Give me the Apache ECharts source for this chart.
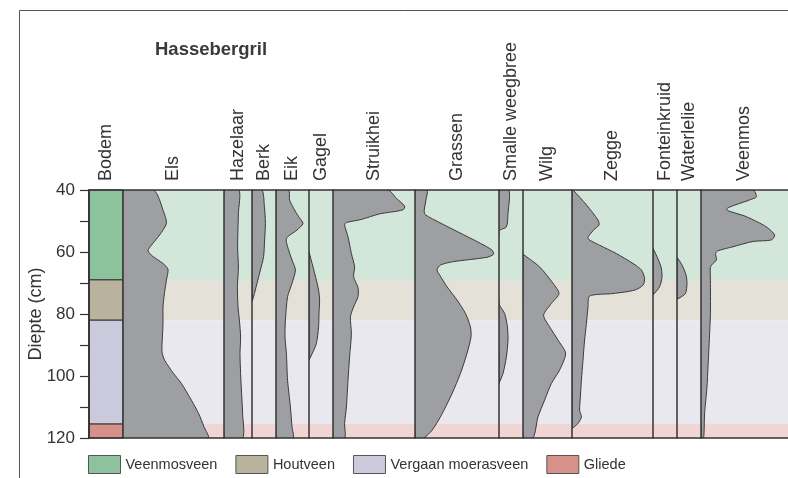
<!DOCTYPE html>
<html><head><meta charset="utf-8">
<script src="https://cdn.jsdelivr.net/npm/echarts@6/dist/echarts.min.js"></script>
<style>html,body{margin:0;padding:0;background:#fff}#c{width:788px;height:478px}</style>
</head><body><div id="c"></div>
<script>
// ---------------- DATA ----------------
const chartTitle = 'Hassebergril';
const depthAxisName = 'Diepte (cm)';
const depthMin = 40, depthMax = 120, depthStep = 10;
const depthTickLabels = [40, 60, 80, 100, 120];

const zoneNames  = ['Veenmosveen', 'Houtveen', 'Vergaan moerasveen', 'Gliede'];
const zoneTop    = [40, 69, 82, 115.5];
const zoneBottom = [69, 82, 115.5, 120];

const taxa = ['Els', 'Hazelaar', 'Berk', 'Eik', 'Gagel', 'Struikhei', 'Grassen',
  'Smalle weegbree', 'Wilg', 'Zegge', 'Fonteinkruid', 'Waterlelie', 'Veenmos'];

// [depth (cm), percentage]
const els = [[40,15.3],[47,20.3],[50.8,21.7],[54.5,18.3],[57.8,14.2],[59.6,12.5],[61.3,14.7],[63.7,20],[65.6,22.5],[69.1,21.7],[73.4,20.7],[77.7,20],[83.1,20],[87.4,19.7],[92.2,19.5],[94.9,20.8],[99.2,25.3],[102.4,29.2],[107.8,34.2],[112.1,37.8],[116.4,40.5],[120,42.5]];
const hazelaar = [[40,7.5],[47.5,7.2],[58.3,6.8],[64.8,7.2],[71.2,6.7],[77.7,7],[82,7.7],[87.4,8.3],[92.8,8],[99.2,8.3],[105.7,8.8],[112.1,9.3],[120,9.3]];
const berk = [[40,5],[45.4,6.2],[50.8,6.7],[56.1,6.3],[61.5,5.8],[65.8,4.2],[70.1,2.5],[74.4,0.8],[76,0]];
const eik = [[40,6.3],[43.2,6.8],[45.9,8.8],[48.6,11.3],[50.8,13.5],[52.9,10.5],[55.6,5.2],[58.3,5.8],[62.6,8],[65.8,9.7],[70.1,8],[74.4,5.8],[82,4.7],[87.4,4.5],[92.7,5.2],[101.4,5.8],[110,7.2],[116.4,8],[120,8.5]];
const gagel = [[59.9,0],[64.8,2],[69.1,3.7],[72.3,4.8],[75.5,5.3],[79.8,5],[84.1,4.8],[89.5,3.7],[92.2,2],[94.9,0]];
const struikhei = [[40,27.5],[42.7,31.7],[45.2,35.8],[46.4,35],[47.7,23.3],[49.5,14.2],[50.5,6.7],[51.3,5.8],[55.1,7.5],[60.5,9.2],[64.8,10.8],[68,10.3],[71.5,12.5],[74.4,12.5],[77.7,10.3],[80.9,8.7],[86.3,9.2],[93.8,8.3],[101.4,7.5],[110,6.7],[115.3,5.8],[120,5.8]];
const grassen = [[40,6],[43.2,5.5],[47.5,4.7],[49.5,9.3],[57.2,32.7],[59.4,38.5],[60.7,39.3],[61.7,36],[63.1,19.3],[64.2,12.7],[65.8,11],[67.4,12.3],[71.2,16],[75.5,21],[79.8,25.2],[84.1,27.7],[87.4,28],[92.7,26],[99.2,22.7],[105.7,18.5],[113.2,12.7],[117.5,8.5],[120,4.3]];
const smalleWeegbree = [[40,5],[47.5,4.5],[51.9,3.7],[53.3,0],[76.6,0],[79.8,2.8],[84.1,4.2],[88.4,4.5],[93.8,3.7],[99.2,2],[102.4,0]];
const wilg = [[60.7,0],[64.8,8.3],[70.1,15],[73.4,18],[76.6,14.2],[80.4,10.3],[84.1,13.3],[88.4,17.5],[92.7,21.3],[98.1,18.3],[102.4,14.2],[107.8,10.8],[113.2,7.5],[120,5]];
const zegge = [[40,0.5],[44.8,7.2],[49.7,13],[51.3,13.5],[52.9,10.8],[55.6,8],[57.8,13.8],[60.5,22.2],[63.7,30.5],[65.8,34.7],[68.5,36.3],[70.7,35.5],[72.3,31.3],[73.4,20.5],[74.2,8.8],[77.7,8],[83.1,7.2],[88.4,6.3],[94.9,5.5],[101.4,4.7],[106.7,4.2],[111,3.8],[113.2,4.7],[115.3,3],[117,0]];
const fonteinkruid = [[58.8,0],[61.5,2],[64.8,4],[68,4.5],[71.2,3.3],[73.9,0]];
const waterlelie = [[61.7,0],[64.2,2.5],[67.4,4.5],[70.1,5],[73.4,4.2],[75.3,0]];
const veenmos = [[40,26],[42.2,27.7],[43.2,24.3],[46.2,12.7],[48.6,22.7],[51.9,32.7],[54.5,36.8],[56.1,35.2],[56.6,26],[58.3,16],[59.6,8.5],[60.4,7.3],[62.6,7.7],[63.7,6],[65,4.7],[69.1,4.7],[79.8,4.7],[90.6,4],[97,3.5],[103.5,3],[112.1,1.8],[120,1.3]];

const taxonData = [els, hazelaar, berk, eik, gagel, struikhei, grassen,
  smalleWeegbree, wilg, zegge, fonteinkruid, waterlelie, veenmos];

// ---------------- LAYOUT / STYLE ----------------
const FONT = "'Liberation Sans', Arial, sans-serif";
const PLOT_TOP = 190, PLOT_BOTTOM = 40, PLOT_LEFT = 89;
const PX_PER_PCT = 2;
const bodemLayout = { left: 89, width: 34 };
const colLeft  = [123, 224, 252, 276, 309, 333, 415, 499, 523, 572, 653, 677, 701];
const colWidth = [101, 28, 24, 33, 24, 82, 84, 24, 49, 81, 24, 24, 87];
const zoneLight = ['#d2e6d9', '#e4e1d9', '#e9e8ef', '#f1d5d5'];
const zoneDark  = ['#8cc39c', '#b9b39e', '#cbc9dc', '#d6918b'];
const LINE = '#333333';
const FILL = '#9e9fa3';

// ---------------- BUILD ----------------
const grids = [], xAxes = [], yAxes = [], series = [];

function hiddenAxisParts(o) {
  return Object.assign({ axisTick: { show: false }, axisLabel: { show: false }, splitLine: { show: false } }, o);
}

// background grid (bands, depth axis, top & bottom lines)
grids.push({ left: PLOT_LEFT, right: 0, top: PLOT_TOP, bottom: PLOT_BOTTOM });
xAxes.push(hiddenAxisParts({ gridIndex: 0, type: 'value', min: 0, max: 1, position: 'bottom', z: 10,
  axisLine: { show: true, lineStyle: { color: LINE, width: 1.5 } } }));
xAxes.push(hiddenAxisParts({ gridIndex: 0, type: 'value', min: 0, max: 1, position: 'top', z: 10,
  axisLine: { show: true, lineStyle: { color: LINE, width: 1.5 } } }));
yAxes.push({ gridIndex: 0, type: 'value', inverse: true, min: depthMin, max: depthMax, interval: depthStep, z: 10,
  axisLine: { show: true, lineStyle: { color: LINE, width: 1.5 } },
  axisTick: { show: true, length: 9, lineStyle: { color: LINE, width: 1.2 } },
  axisLabel: { margin: 14, fontSize: 17, color: '#333', fontFamily: FONT,
    formatter: v => depthTickLabels.indexOf(v) >= 0 ? String(v) : '' },
  splitLine: { show: false },
  name: depthAxisName, nameLocation: 'middle', nameGap: 44, nameMoveOverlap: false,
  nameTextStyle: { fontSize: 18, color: '#333', fontFamily: FONT } });

// Bodem grid
grids.push({ left: bodemLayout.left, width: bodemLayout.width, top: PLOT_TOP, bottom: PLOT_BOTTOM });
xAxes.push(hiddenAxisParts({ gridIndex: 1, type: 'value', min: 0, max: 1, position: 'top',
  axisLine: { show: false }, name: 'Bodem', nameLocation: 'middle', nameRotate: 90, nameGap: 9,
  nameTextStyle: { fontSize: 18, color: '#333', fontFamily: FONT } }));
yAxes.push(hiddenAxisParts({ gridIndex: 1, type: 'value', inverse: true, min: depthMin, max: depthMax, position: 'right', z: 10,
  axisLine: { show: true, lineStyle: { color: LINE, width: 1.5 } } }));

zoneNames.forEach((name, i) => {
  const rectRenderer = (fill, stroke) => (params, api) => {
    const p0 = api.coord([0, api.value(0)]);
    const p1 = api.coord([1, api.value(1)]);
    return { type: 'rect', shape: { x: p0[0], y: p0[1], width: p1[0] - p0[0], height: p1[1] - p0[1] },
      style: { fill: fill, stroke: stroke, lineWidth: stroke ? 1 : 0 } };
  };
  series.push({ type: 'custom', name: name, xAxisIndex: 0, yAxisIndex: 0, z: 1, silent: true,
    data: [[zoneTop[i], zoneBottom[i]]], encode: { y: [0, 1] },
    itemStyle: { color: zoneDark[i] },
    renderItem: rectRenderer(zoneLight[i], null) });
  series.push({ type: 'custom', name: name, xAxisIndex: 2, yAxisIndex: 1, z: 3, silent: true,
    data: [[zoneTop[i], zoneBottom[i]]], encode: { y: [0, 1] },
    itemStyle: { color: zoneDark[i] },
    renderItem: rectRenderer(zoneDark[i], LINE) });
});

// taxon columns
function profileRenderer(points) {
  return function (params, api) {
    if (params.dataIndex !== 0) return null;
    const pts = points.map(p => api.coord([p[1], p[0]]));
    pts.push(api.coord([0, points[points.length - 1][0]]));
    pts.push(api.coord([0, points[0][0]]));
    return { type: 'polygon', shape: { points: pts, smooth: 0.25 },
      style: { fill: FILL, stroke: '#3a3a3a', lineWidth: 1 } };
  };
}

taxa.forEach((name, i) => {
  const g = grids.length;
  grids.push({ left: colLeft[i], width: colWidth[i], top: PLOT_TOP, bottom: PLOT_BOTTOM });
  const xi = xAxes.length;
  xAxes.push(hiddenAxisParts({ gridIndex: g, type: 'value', min: 0, max: colWidth[i] / PX_PER_PCT, position: 'top',
    axisLine: { show: false }, name: name, nameLocation: 'middle', nameRotate: 90, nameGap: 9,
    nameTextStyle: { fontSize: 18, color: '#333', fontFamily: FONT } }));
  const yi = yAxes.length;
  yAxes.push(hiddenAxisParts({ gridIndex: g, type: 'value', inverse: true, min: depthMin, max: depthMax, z: 10,
    axisLine: { show: true, lineStyle: { color: LINE, width: 1.5 } } }));
  series.push({ type: 'custom', name: name, xAxisIndex: xi, yAxisIndex: yi, z: 4, clip: true, silent: true,
    data: taxonData[i].map(p => [p[1], p[0]]), encode: { x: 0, y: 1 },
    renderItem: profileRenderer(taxonData[i]) });
});

const chart = echarts.init(document.getElementById('c'), null, { renderer: 'canvas' });
chart.setOption({
  animation: false,
  backgroundColor: '#ffffff',
  title: { text: chartTitle, left: 155, top: 40, padding: 0,
    textStyle: { fontSize: 18.5, fontWeight: 'bold', color: '#3a3a3a', fontFamily: FONT } },
  legend: {
    left: 88, top: 455, padding: 0, itemWidth: 32, itemHeight: 18, itemGap: 18, selectedMode: false,
    textStyle: { fontSize: 14.5, color: '#333', fontFamily: FONT },
    data: zoneNames.map((n, i) => ({ name: n, icon: 'rect',
      itemStyle: { color: zoneDark[i], borderColor: '#555', borderWidth: 1 } }))
  },
  graphic: [{ type: 'polyline', silent: true, z: 0,
    shape: { points: [[19.5, 478], [19.5, 10.5], [788, 10.5]] },
    style: { stroke: '#555', lineWidth: 1, fill: null } }],
  grid: grids, xAxis: xAxes, yAxis: yAxes, series: series
});
</script>
</body></html>
